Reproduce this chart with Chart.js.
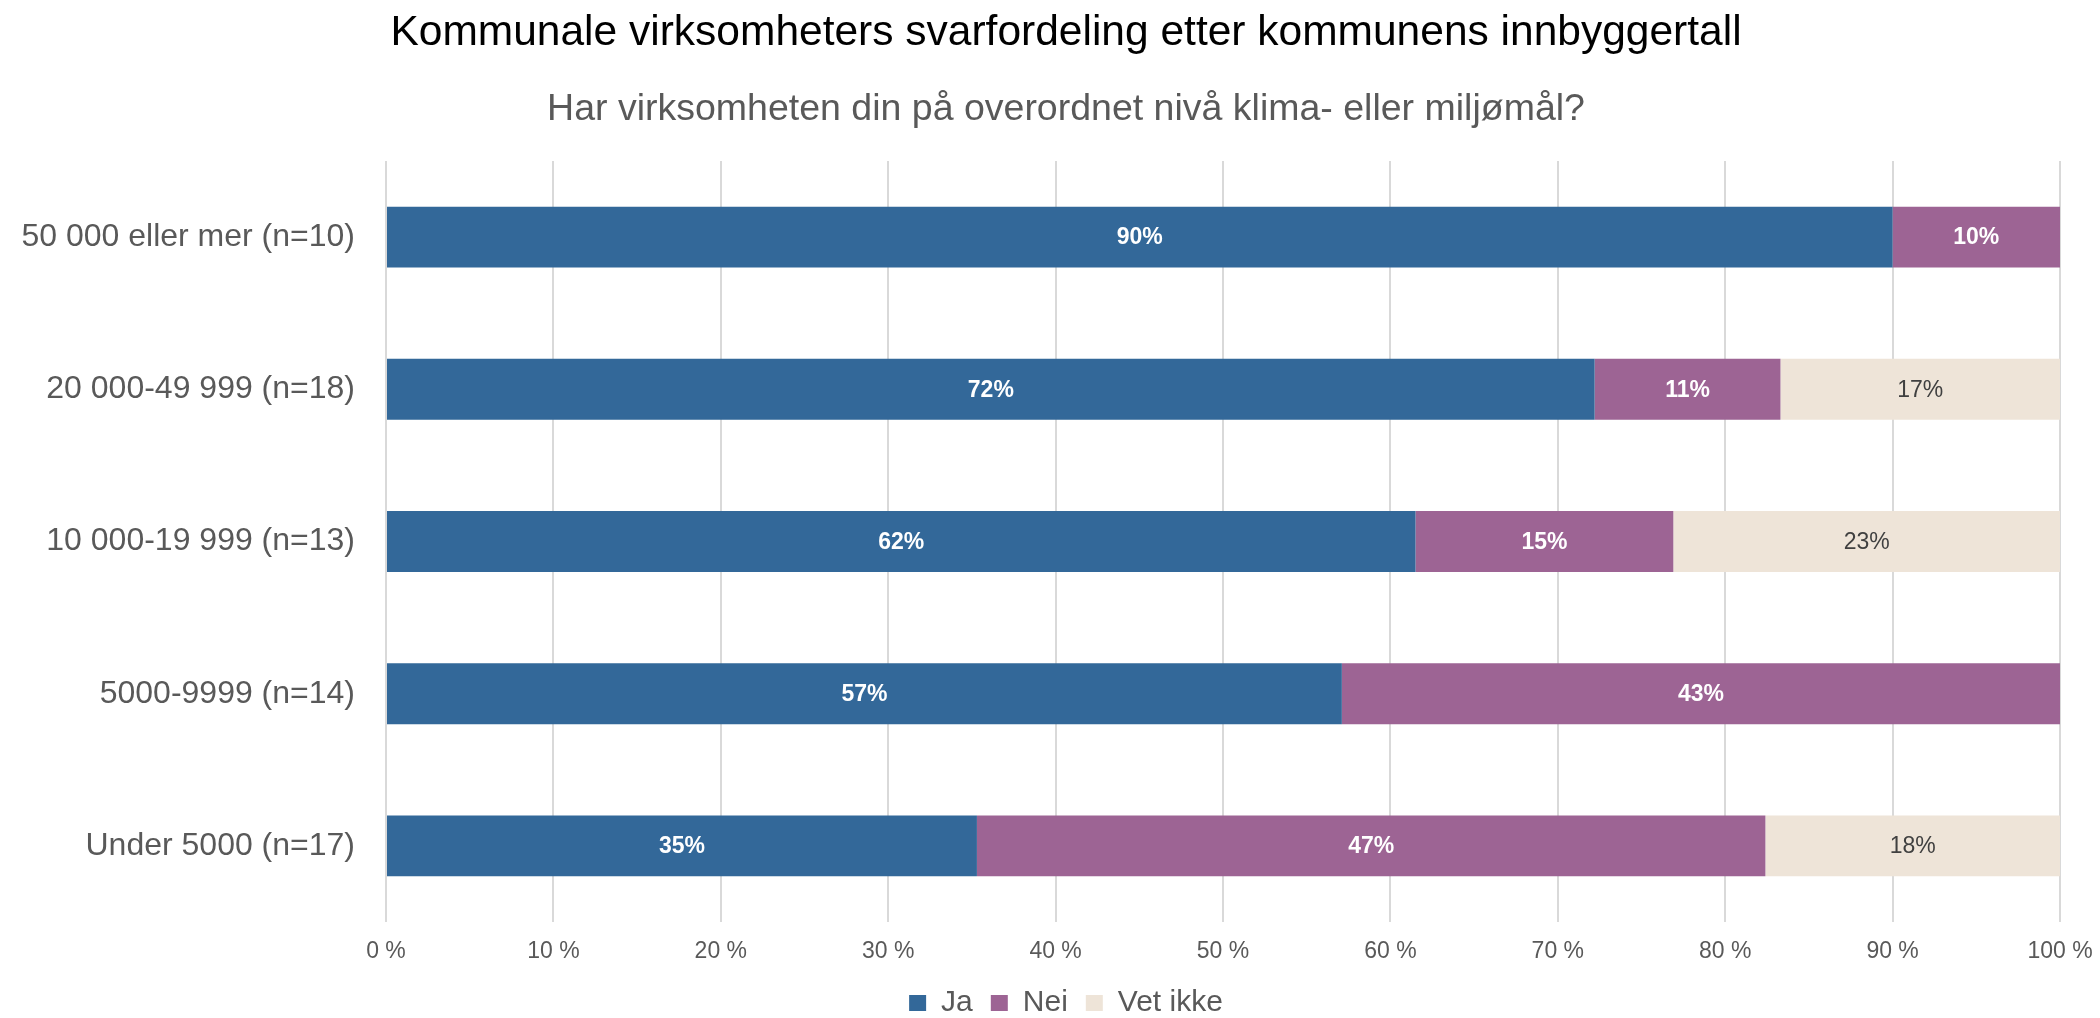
<!DOCTYPE html>
<html lang="no">

<head>
  <meta charset="UTF-8">
  <title>Svarfordeling</title>
  <script src="https://cdn.jsdelivr.net/npm/chart.js"></script>
  <style>
    body { margin: 0; background: #fff; }
    .chart-container { width: 2100px; height: 1018px; }
  </style>
</head>

<body>
  <div class="chart-container">
    <canvas id="myChart"></canvas>
  </div>
</body>

<script>
  // kategorier (kommunestørrelse)
  var kategorier = ['50 000 eller mer (n=10)', '20 000-49 999 (n=18)', '10 000-19 999 (n=13)', '5000-9999 (n=14)', 'Under 5000 (n=17)'];

  // andeler i prosent
  var ja = [90, 72.2, 61.5, 57.1, 35.3];
  var nei = [10, 11.1, 15.4, 42.9, 47.1];
  var vetIkke = [0, 16.7, 23.1, 0, 17.6];

  var tickLabels = ['0 %', '10 %', '20 %', '30 %', '40 %', '50 %', '60 %', '70 %', '80 %', '90 %', '100 %'];

  var grå = '#595959';
  var font = '"Liberation Sans", Arial';

  // tegner prosent-etiketter midt i hver del av stolpen
  const etiketter = {
    id: 'etiketter',
    afterDatasetsDraw(chart) {
      const ctx = chart.ctx;
      chart.data.datasets.forEach((ds, i) => {
        const meta = chart.getDatasetMeta(i);
        meta.data.forEach((bar, j) => {
          const v = ds.data[j];
          if (!v) return;
          const x = (bar.x + bar.base) / 2;
          ctx.save();
          ctx.fillStyle = i == 2 ? '#404040' : '#ffffff';
          ctx.font = (i == 2 ? '' : 'bold ') + '23px ' + font;
          ctx.textAlign = 'center';
          ctx.textBaseline = 'middle';
          ctx.fillText(Math.round(v) + '%', x, bar.y + 1);
          ctx.restore();
        });
      });
    }
  };

  // y-aksen klipper etikettene mot sin egen bredde, så den strekkes helt til venstre kant
  const venstre = {
    id: 'venstre',
    afterLayout(chart) {
      chart.scales.y.left = 0;
    }
  };

  const data = {
    labels: kategorier,
    datasets: [{
      label: 'Ja',
      data: ja,
      backgroundColor: 'rgb(51, 104, 153)'
    }, {
      label: 'Nei',
      data: nei,
      backgroundColor: 'rgb(157, 100, 148)'
    }, {
      label: 'Vet ikke',
      data: vetIkke,
      backgroundColor: 'rgb(238, 228, 216)'
    }]
  };

  const config = {
    type: 'bar',
    data: data,
    plugins: [etiketter, venstre],
    options: {
      indexAxis: 'y',
      responsive: true,
      maintainAspectRatio: false,
      animation: false,
      categoryPercentage: 0.4,
      barPercentage: 1,
      layout: { padding: { left: 72, right: 40, top: 0, bottom: -10 } },
      scales: {
        x: {
          stacked: true,
          min: 0,
          max: 100,
          border: { display: false },
          grid: { color: '#d9d9d9', lineWidth: 2, drawTicks: false },
          ticks: {
            stepSize: 10,
            padding: 16,
            color: grå,
            font: { family: font, size: 23 },
            callback: function (value, index) { return tickLabels[index]; }
          },
          afterFit: function (scale) {
            scale.height = 48;
            scale.paddingLeft = 0;
            scale.paddingRight = 0;
          }
        },
        y: {
          stacked: true,
          border: { display: false },
          grid: { display: false },
          ticks: {
            padding: 23,
            color: grå,
            font: { family: font, size: 32 }
          },
          afterFit: function (scale) { scale.width = 314; }
        }
      },
      plugins: {
        title: {
          display: true,
          text: 'Kommunale virksomheters svarfordeling etter kommunens innbyggertall',
          color: '#000000',
          font: { family: font, size: 42.5, weight: 'normal' },
          padding: { top: 8, bottom: 14 }
        },
        subtitle: {
          display: true,
          text: 'Har virksomheten din på overordnet nivå klima- eller miljømål?',
          color: grå,
          font: { family: font, size: 37.5 },
          padding: { top: 14, bottom: 29 }
        },
        legend: {
          position: 'bottom',
          labels: {
            color: grå,
            boxWidth: 17,
            boxHeight: 16,
            padding: 18,
            font: { family: font, size: 30 }
          }
        },
        tooltip: { enabled: false }
      }
    }
  };

  const myChart = new Chart(document.getElementById('myChart'), config);
</script>

</html>
